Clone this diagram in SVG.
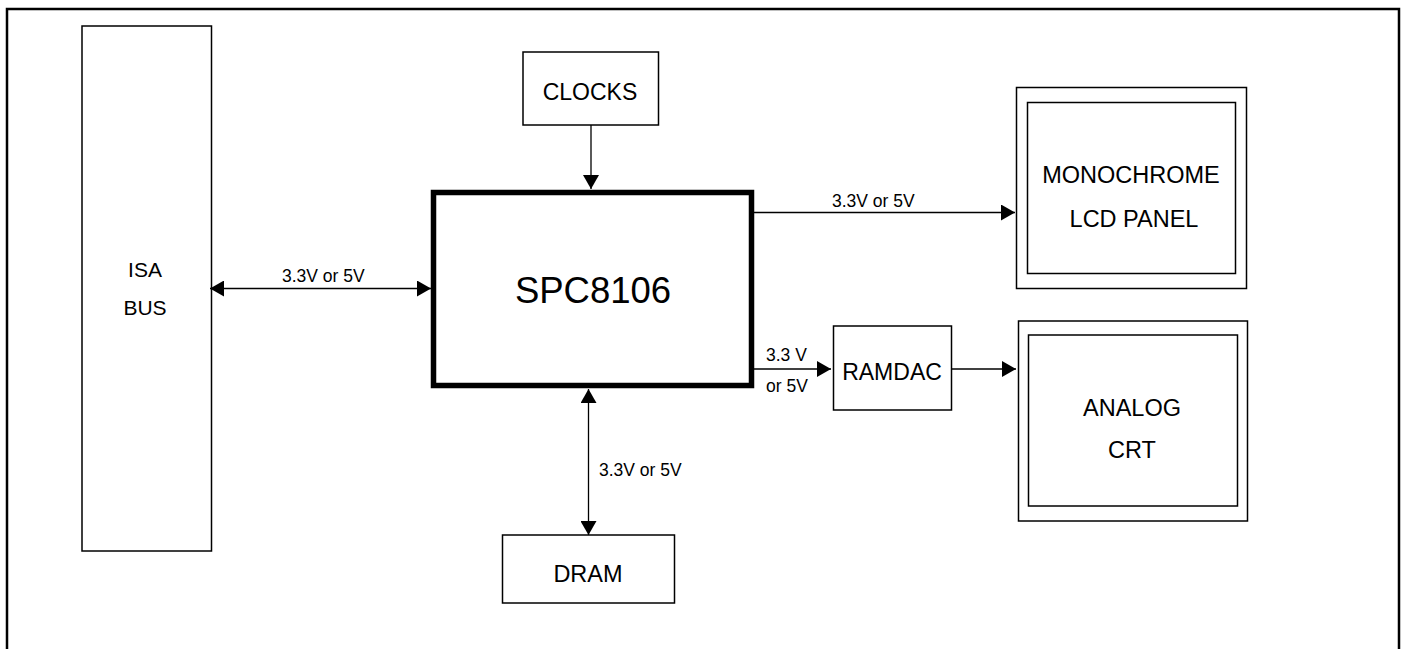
<svg xmlns="http://www.w3.org/2000/svg" width="1406" height="649" viewBox="0 0 1406 649">
<style>
.box{fill:none;stroke:#000;stroke-width:1.5}
.t{font-family:"Liberation Sans",Arial,sans-serif;fill:#000}
.lbl{font-family:"Liberation Sans",Arial,sans-serif;fill:#000;font-size:17.5px}
.c{stroke:#000;stroke-width:1.3;fill:none}
</style>
<defs>
<marker id="arr" viewBox="0 0 14 16" refX="14" refY="8" markerWidth="14" markerHeight="16" markerUnits="userSpaceOnUse" orient="auto-start-reverse">
<path d="M0,0 L14,8 L0,16 z" fill="#000"/>
</marker>
</defs>
<rect width="1406" height="649" fill="#fff"/>
<path d="M7,660 L7,9 L1399,9 L1399,660" fill="none" stroke="#000" stroke-width="2.5"/>

<g id="isa">
<rect class="box" x="82" y="26" width="129.5" height="525"/>
<text class="t" x="145" y="277" font-size="21" text-anchor="middle">ISA</text>
<text class="t" x="145" y="315" font-size="21" text-anchor="middle">BUS</text>
</g>
<g id="clocks">
<rect class="box" x="523" y="52" width="135.5" height="73"/>
<text class="t" x="590" y="100" font-size="23" text-anchor="middle">CLOCKS</text>
</g>
<g id="spc8106">
<rect x="433.5" y="192.5" width="318" height="193" fill="none" stroke="#000" stroke-width="5.5"/>
<text class="t" x="593" y="303" font-size="36.5" text-anchor="middle">SPC8106</text>
</g>
<g id="mono">
<rect class="box" x="1016.5" y="87.5" width="230" height="201"/>
<rect class="box" x="1027.5" y="102.5" width="208" height="171"/>
<text class="t" x="1131" y="183" font-size="23.5" text-anchor="middle">MONOCHROME</text>
<text class="t" x="1134" y="227" font-size="23.5" text-anchor="middle">LCD PANEL</text>
</g>
<g id="ramdac">
<rect class="box" x="833.5" y="326" width="118" height="84"/>
<text class="t" x="892" y="380" font-size="23" text-anchor="middle">RAMDAC</text>
</g>
<g id="crt">
<rect class="box" x="1018.5" y="321" width="229" height="200"/>
<rect class="box" x="1028.5" y="335" width="209" height="171"/>
<text class="t" x="1132" y="416" font-size="23.5" text-anchor="middle">ANALOG</text>
<text class="t" x="1132" y="458" font-size="23.5" text-anchor="middle">CRT</text>
</g>
<g id="dram">
<rect class="box" x="502.5" y="535" width="172" height="68"/>
<text class="t" x="588" y="582" font-size="23.5" text-anchor="middle">DRAM</text>
</g>

<g id="connectors">
<line class="c" x1="210" y1="288.5" x2="431" y2="288.5" marker-start="url(#arr)" marker-end="url(#arr)"/>
<text class="lbl" x="282" y="282">3.3V or 5V</text>
<line class="c" x1="591" y1="125" x2="591" y2="189" marker-end="url(#arr)"/>
<line class="c" x1="754" y1="212.5" x2="1015" y2="212.5" marker-end="url(#arr)"/>
<text class="lbl" x="832" y="206.5">3.3V or 5V</text>
<line class="c" x1="754" y1="369" x2="831" y2="369" marker-end="url(#arr)"/>
<text class="lbl" x="766" y="361">3.3 V</text>
<text class="lbl" x="766" y="392">or 5V</text>
<line class="c" x1="952" y1="369" x2="1016" y2="369" marker-end="url(#arr)"/>
<line class="c" x1="588.5" y1="389" x2="588.5" y2="535" marker-start="url(#arr)" marker-end="url(#arr)"/>
<text class="lbl" x="599" y="476">3.3V or 5V</text>
</g>
</svg>
